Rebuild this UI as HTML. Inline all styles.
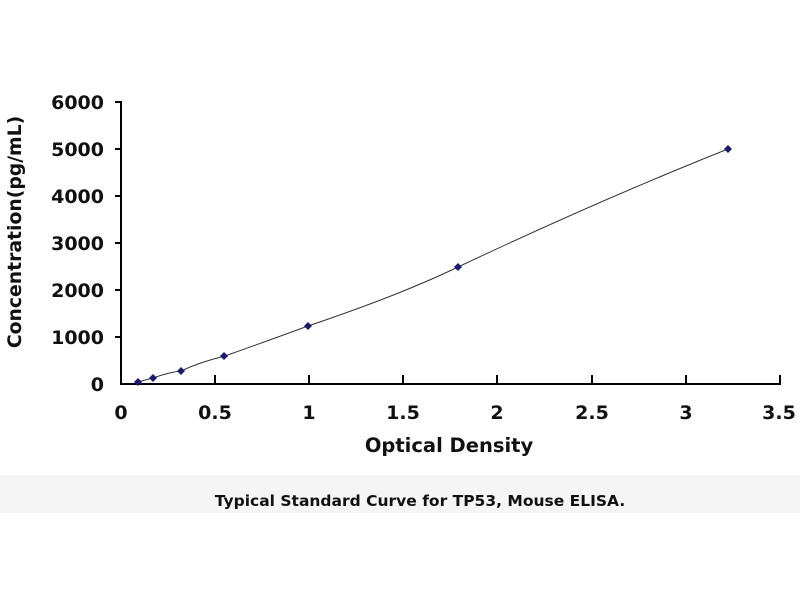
<!DOCTYPE html>
<html><head><style>body{margin:0;background:#fff}svg{display:block}</style></head><body>
<svg width="800" height="600" xmlns="http://www.w3.org/2000/svg" font-family="DejaVu Sans, Liberation Sans, sans-serif" font-weight="bold">
<rect width="800" height="600" fill="#fff"/>
<rect x="0" y="475" width="800" height="38" fill="#f5f5f5"/>
<g stroke="#000" stroke-width="2">
<line x1="121" y1="101" x2="121" y2="385"/>
<line x1="120" y1="384" x2="781" y2="384"/>
<line x1="115" y1="102" x2="121" y2="102"/>
<line x1="115" y1="149" x2="121" y2="149"/>
<line x1="115" y1="196" x2="121" y2="196"/>
<line x1="115" y1="243" x2="121" y2="243"/>
<line x1="115" y1="290" x2="121" y2="290"/>
<line x1="115" y1="337" x2="121" y2="337"/>
<line x1="215" y1="375" x2="215" y2="384"/>
<line x1="309" y1="375" x2="309" y2="384"/>
<line x1="403" y1="375" x2="403" y2="384"/>
<line x1="497" y1="375" x2="497" y2="384"/>
<line x1="592" y1="375" x2="592" y2="384"/>
<line x1="686" y1="375" x2="686" y2="384"/>
<line x1="780" y1="375" x2="780" y2="384"/>
</g>
<g font-size="19" text-anchor="end" fill="#111">
<text x="104" y="109">6000</text><text x="104" y="156">5000</text><text x="104" y="203">4000</text>
<text x="104" y="250">3000</text><text x="104" y="297">2000</text><text x="104" y="344">1000</text><text x="104" y="391">0</text>
</g>
<g font-size="19" text-anchor="middle" fill="#111">
<text x="121" y="419">0</text><text x="215" y="419">0.5</text><text x="309" y="419">1</text><text x="403" y="419">1.5</text>
<text x="497" y="419">2</text><text x="592" y="419">2.5</text><text x="686" y="419">3</text><text x="779" y="419">3.5</text>
</g>
<text x="449" y="452" font-size="19.5" text-anchor="middle" fill="#111">Optical Density</text>
<text transform="translate(21,232) rotate(-90)" font-size="18.8" text-anchor="middle" fill="#111">Concentration(pg/mL)</text>
<text x="420" y="506" font-size="15.5" text-anchor="middle" fill="#111">Typical Standard Curve for TP53, Mouse ELISA.</text>
<path d="M138,382 Q145,380 153,378 Q170,372 181,371 Q200,362 225,356 Q270,340 308,326 Q400,295 458,267 Q600,200 728,149" fill="none" stroke="#333" stroke-width="1"/>
<g fill="#1a1a6e">
<path d="M138,378 l4,4 l-4,4 l-4,-4z"/>
<path d="M153,374 l4,4 l-4,4 l-4,-4z"/>
<path d="M181,367 l4,4 l-4,4 l-4,-4z"/>
<path d="M224,352 l4,4 l-4,4 l-4,-4z"/>
<path d="M308,322 l4,4 l-4,4 l-4,-4z"/>
<path d="M458,263 l4,4 l-4,4 l-4,-4z"/>
<path d="M728,145 l4,4 l-4,4 l-4,-4z"/>
</g>
</svg>
</body></html>
